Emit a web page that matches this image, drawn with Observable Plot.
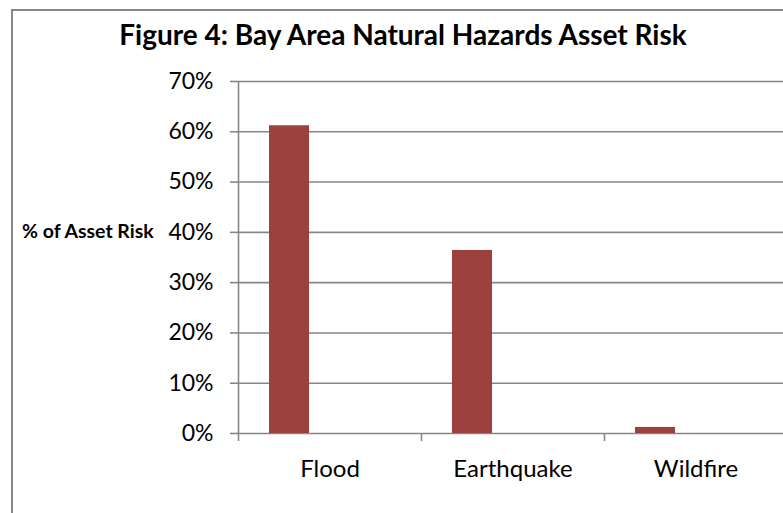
<!DOCTYPE html>
<html>
<head>
<meta charset="utf-8">
<script src="https://cdn.jsdelivr.net/npm/d3@7"></script>
<script src="https://cdn.jsdelivr.net/npm/@observablehq/plot@0.6"></script>
<style>
  html, body { margin: 0; padding: 0; background: #fff; overflow: hidden; }
  #chart { width: 783px; height: 513px; }
  svg { display: block; }
</style>
</head>
<body>
<div id="chart"></div>
<script>
// Share of Bay Area asset risk by natural hazard
const hazards = ["Flood", "Earthquake", "Wildfire"];
const assetRisk = [0.612, 0.364, 0.012];
const yTicks = [0, 0.1, 0.2, 0.3, 0.4, 0.5, 0.6, 0.7];

const titleText = "Figure 4: Bay Area Natural Hazards Asset Risk";
const yLabelText = "% of Asset Risk";

const rows = hazards.map((name, i) => ({name, index: i, value: assetRisk[i]}));
const gridColor = "#878787";
const font = "Lato, 'Open Sans', sans-serif";

const svg = Plot.plot({
  width: 783,
  height: 513,
  marginLeft: 238,
  marginTop: 81,
  marginBottom: 80,
  marginRight: 0,
  style: {fontFamily: font, background: "#fff", color: "#000", overflow: "hidden"},
  x: {domain: [0, hazards.length], range: [238, 787]},
  y: {domain: [0, 0.7]},
  marks: [
    Plot.gridY(yTicks, {stroke: gridColor, strokeOpacity: 1, strokeWidth: 1.6}),
    Plot.ruleX([0], {stroke: gridColor, strokeWidth: 1.6}),
    Plot.axisY({
      ticks: yTicks, tickSize: 8, tickPadding: 17,
      tickFormat: d3.format(".0%"), label: null,
      stroke: gridColor, strokeWidth: 1.6, fill: "#000", fontSize: 23
    }),
    // category boundaries: short ticks below the baseline
    Plot.axisX({
      ticks: d3.range(0, hazards.length + 1), tickSize: 8,
      tickFormat: () => "", label: null,
      stroke: gridColor, strokeWidth: 1.6
    }),
    // category names centred in each band
    Plot.axisX({
      ticks: hazards.map((_, i) => i + 0.5), tickSize: 0, tickPadding: 26,
      tickFormat: d => hazards[Math.floor(d)], label: null,
      fill: "#000", fontSize: 24
    }),
    Plot.rectY(rows, {
      x1: "index", x2: d => d.index + 1, y: "value",
      fill: "#9d413f", insetLeft: 31, insetRight: 112
    })
  ]
});

const root = d3.select(svg);
// outer chart border
root.append("rect")
  .attr("x", 12).attr("y", 10)
  .attr("width", 800).attr("height", 600)
  .attr("fill", "none").attr("stroke", gridColor).attr("stroke-width", 2);

root.append("text")
  .attr("x", 403).attr("y", 45)
  .attr("text-anchor", "middle")
  .attr("font-family", font).attr("font-weight", "bold").attr("font-size", 28)
  .attr("fill", "#000")
  .text(titleText);

root.append("text")
  .attr("x", 22).attr("y", 238)
  .attr("text-anchor", "start")
  .attr("font-family", font).attr("font-weight", "bold").attr("font-size", 19.5)
  .attr("fill", "#000")
  .text(yLabelText);

document.getElementById("chart").appendChild(svg);
</script>
</body>
</html>
